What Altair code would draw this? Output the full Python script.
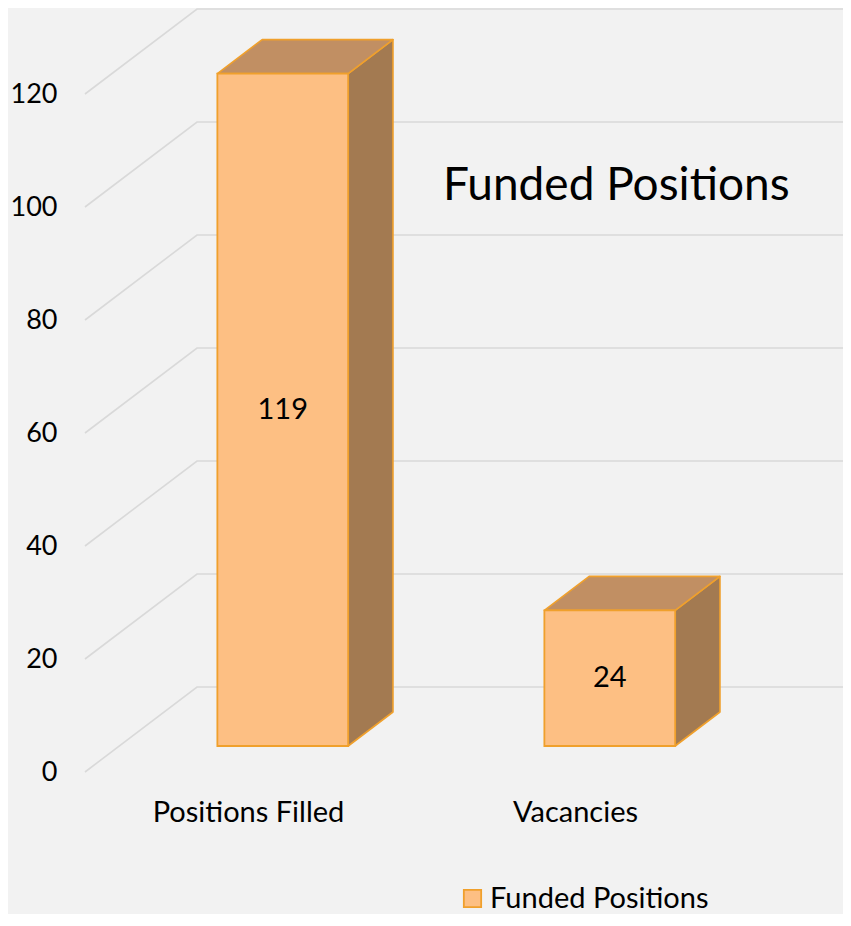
import altair as alt
import pandas as pd

# ---------------- data ----------------
categories = ["Positions Filled", "Vacancies"]
values = [119, 24]
series_name = "Funded Positions"
tick_values = [0, 20, 40, 60, 80, 100, 120]
chart_title = "Funded Positions"

# ---------------- layout / style ----------------
FONT = "Lato"
W, H = 835, 906
PX_PER_UNIT = 5.65          # vertical pixels per value unit
ZERO_Y = 764                # chart y of value 0 on the front plane
AXIS_X = 77                 # chart x of the front-plane left edge
BAND_PX = 327               # pixels per category band
DEPTH_PX_X, DEPTH_PX_Y = 112, 85
DU = DEPTH_PX_X / BAND_PX   # depth in x units
DV = DEPTH_PX_Y / PX_PER_UNIT  # depth in value units
F_FRONT, F_BACK = 0.306, 0.706  # bar front / back position inside the depth
HALF = 0.2                  # half bar width (in bands)

FRONT_FILL = "#FDBF83"
TOP_FILL = "#C18F63"
SIDE_FILL = "#A37A51"
EDGE = "#F0A02C"
GRID = "#D9D9D9"
BG = "#F2F2F2"

x_dom = [-AXIS_X / BAND_PX, (W - AXIS_X) / BAND_PX]
y_dom = [(ZERO_Y - H) / PX_PER_UNIT, ZERO_Y / PX_PER_UNIT]
xs = alt.Scale(domain=x_dom, zero=False, nice=False)
ys = alt.Scale(domain=y_dom, zero=False, nice=False)
yaxis = alt.Axis(values=tick_values, grid=False, domain=False, ticks=False,
                 offset=-AXIS_X, labelPadding=28, labelFont=FONT,
                 labelFontSize=27, labelColor="black", title=None)

n_cat = len(categories)

# gridlines: front-plane point -> back-wall corner -> back-wall right end
grid_rows = []
for t in tick_values:
    grid_rows.append({"tick": t, "step": 0, "u": 0.0, "v": t})
    grid_rows.append({"tick": t, "step": 1, "u": DU, "v": t + DV})
    grid_rows.append({"tick": t, "step": 2, "u": n_cat + DU, "v": t + DV})
grid_df = pd.DataFrame(grid_rows)

sxf, svf = F_FRONT * DU, F_FRONT * DV
sxb, svb = F_BACK * DU, F_BACK * DV
ddx, ddv = sxb - sxf, svb - svf

front_rows, top_rows, side_rows, lab_rows = [], [], [], []
for i, (cat, val) in enumerate(zip(categories, values)):
    c = i + 0.5
    xl, xr = c - HALF + sxf, c + HALF + sxf
    hf = val + svf
    front_rows.append({"cat": cat, "series": series_name, "x": xl, "x2": xr,
                       "y": svf, "y2": hf})
    top_rows += [
        {"bar": cat, "u": xl, "lo": hf, "hi": hf},
        {"bar": cat, "u": xl + ddx, "lo": hf, "hi": hf + ddv},
        {"bar": cat, "u": xr, "lo": hf, "hi": hf + ddv},
        {"bar": cat, "u": xr + ddx, "lo": hf + ddv, "hi": hf + ddv},
    ]
    side_rows += [
        {"bar": cat, "u": xr, "lo": svf, "hi": hf},
        {"bar": cat, "u": xr + ddx, "lo": svb, "hi": hf + ddv},
    ]
    lab_rows.append({"cat": cat, "val": str(val), "u": c + sxf,
                     "v": val / 2 + svf, "cu": c, "cv": 0})
front_df = pd.DataFrame(front_rows)
top_df = pd.DataFrame(top_rows)
side_df = pd.DataFrame(side_rows)
lab_df = pd.DataFrame(lab_rows)

grid = alt.Chart(grid_df).mark_line(color=GRID, strokeWidth=1.6).encode(
    x=alt.X("u:Q", scale=xs, axis=None),
    y=alt.Y("v:Q", scale=ys, axis=yaxis),
    detail="tick:N",
    order="step:Q",
)

side = alt.Chart(side_df).mark_area(fill=SIDE_FILL, stroke=EDGE, strokeWidth=1.6,
                                    strokeJoin="round", opacity=1,
                                    orient="vertical").encode(
    x=alt.X("u:Q", scale=xs, axis=None),
    y=alt.Y("lo:Q", scale=ys, axis=yaxis, stack=None),
    y2="hi:Q",
    detail="bar:N",
)

top = alt.Chart(top_df).mark_area(fill=TOP_FILL, stroke=EDGE, strokeWidth=1.6,
                                  strokeJoin="round", opacity=1,
                                  orient="vertical").encode(
    x=alt.X("u:Q", scale=xs, axis=None),
    y=alt.Y("lo:Q", scale=ys, axis=yaxis, stack=None),
    y2="hi:Q",
    detail="bar:N",
)

front = alt.Chart(front_df).mark_rect(stroke=EDGE, strokeWidth=1.8, opacity=1).encode(
    x=alt.X("x:Q", scale=xs, axis=None),
    x2="x2:Q",
    y=alt.Y("y:Q", scale=ys, axis=yaxis),
    y2="y2:Q",
    color=alt.Color("series:N",
                    scale=alt.Scale(domain=[series_name], range=[FRONT_FILL]),
                    legend=alt.Legend(orient="none", legendX=450, legendY=876,
                                      padding=0, title=None, symbolType="square",
                                      symbolSize=300, symbolStrokeColor=EDGE,
                                      symbolStrokeWidth=1.8, symbolOpacity=1,
                                      labelFont=FONT, labelFontSize=29,
                                      labelColor="black", labelOffset=3,
                                      labelLimit=400)),
)

vlabels = alt.Chart(lab_df).mark_text(font=FONT, fontSize=29, color="black",
                                      baseline="middle", align="center").encode(
    x=alt.X("u:Q", scale=xs, axis=None),
    y=alt.Y("v:Q", scale=ys, axis=yaxis),
    text="val:N",
)

clabels = alt.Chart(lab_df).mark_text(font=FONT, fontSize=29, color="black",
                                      baseline="alphabetic", align="center",
                                      dy=50).encode(
    x=alt.X("cu:Q", scale=xs, axis=None),
    y=alt.Y("cv:Q", scale=ys, axis=yaxis),
    text="cat:N",
)

chart = alt.layer(grid, side, top, front, vlabels, clabels).properties(
    width=W,
    height=H,
    title=alt.TitleParams(chart_title, anchor="start", frame="group",
                          orient="top", offset=0, dx=435, dy=240,
                          baseline="alphabetic", font=FONT, fontSize=46,
                          fontWeight="normal", color="black"),
    autosize=alt.AutoSizeParams(type="none"),
    padding=0,
    background=BG,
).configure_view(stroke=None)

chart.save("out.html", embed_options={"renderer": "svg", "actions": False})
